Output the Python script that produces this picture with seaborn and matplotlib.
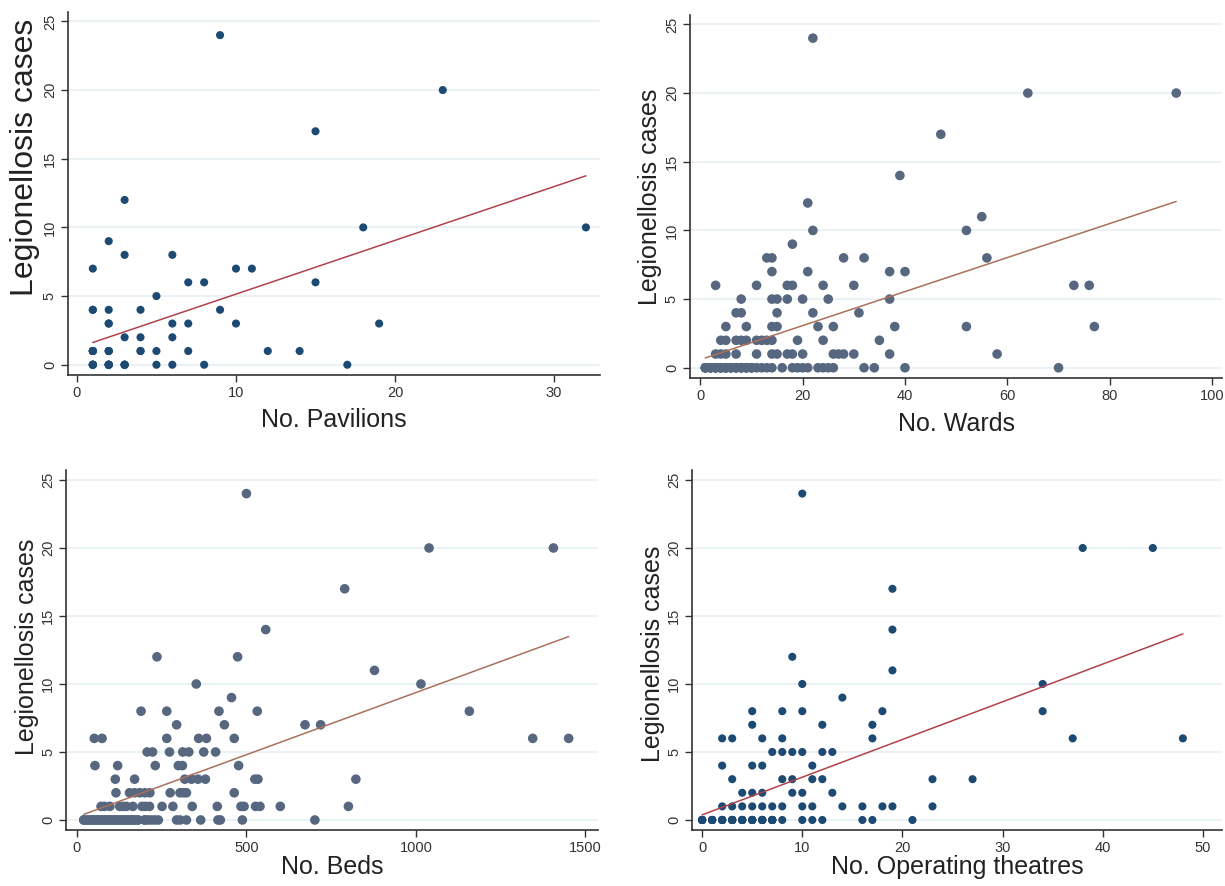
import matplotlib
matplotlib.use("Agg")
import matplotlib.pyplot as plt
import pandas as pd
import seaborn as sns

# data (y = legionellosis cases)
# the "_hid" lists are overlapping points hidden under visible ones (estimated from the fit line)
pav_x = [1, 1, 1, 1, 2, 2, 2, 2, 2, 3, 3, 3, 3, 4, 4, 4, 5, 5, 5, 6, 6, 6, 6,
         7, 7, 7, 8, 8, 9, 9, 10, 10, 11, 12, 14, 15, 15, 17, 18, 19, 23, 32]
pav_y = [7, 4, 1, 0, 9, 4, 3, 1, 0, 12, 8, 2, 0, 4, 2, 1, 5, 1, 0, 8, 3, 2, 0,
         6, 3, 1, 6, 0, 24, 4, 7, 3, 7, 1, 1, 17, 6, 0, 10, 3, 20, 10]
pav_hid_x = [1, 1, 1, 1, 1, 2, 2, 2, 2, 2, 2, 3, 3, 3, 1, 1, 1, 2, 2, 4]
pav_hid_y = [0, 0, 0, 0, 4, 3, 0, 0, 0, 0, 0, 0, 0, 0, 1, 1, 1, 1, 1, 1]

ward_x = [1, 2, 3, 4, 5, 6, 7, 8, 9, 10, 11, 12, 13, 14, 16, 18, 19, 20, 21, 23, 24, 25, 26, 32, 34, 40, 70,
          3, 4, 5, 7, 11, 14, 15, 17, 18, 20, 26, 27, 28, 30, 37, 58,
          4, 5, 7, 8, 9, 11, 12, 13, 14, 19, 24, 35,
          5, 9, 14, 15, 23, 26, 38, 52, 77,
          7, 8, 15, 22, 31,
          8, 14, 15, 17, 20, 25, 37,
          3, 11, 17, 18, 24, 30, 73, 76,
          14, 21, 37, 40,
          13, 14, 28, 32, 56,
          18, 22, 52, 55, 21, 39, 47, 64, 93, 22]
ward_y = [0] * 27 + [1] * 16 + [2] * 12 + [3] * 9 + [4] * 5 + [5] * 7 + [6] * 8 + [7] * 4 + [8] * 5 + \
         [9, 10, 10, 11, 12, 14, 17, 20, 20, 24]
ward_hid_x = [1, 2, 3, 4, 5, 6, 7, 8, 9, 10, 1, 2, 3, 4, 5, 6, 7, 8, 9, 10, 1, 2, 3, 4, 5]
ward_hid_y = [0] * 25

bed_x = [20, 30, 40, 50, 60, 70, 80, 90, 100, 110, 120, 130, 140, 150, 160, 170, 180, 200, 210, 220, 230, 240,
         294, 304, 323, 365, 416, 423, 488, 702,
         71, 81, 97, 126, 136, 146, 165, 192, 202, 214, 251, 283, 340, 414, 484, 493, 527, 540, 600, 801,
         115, 155, 170, 185, 200, 215, 275, 304, 314, 323, 464,
         113, 170, 318, 338, 357, 379, 525, 534, 823,
         53, 120, 231, 299, 311, 477,
         207, 223, 273, 312, 330, 374, 409,
         51, 74, 265, 359, 382, 464, 1345, 1451,
         294, 435, 673, 719,
         189, 265, 419, 532, 1158,
         456, 352, 1015, 878, 236, 474, 557, 790, 1039, 1406, 500]
bed_y = [0] * 30 + [1] * 20 + [2] * 11 + [3] * 9 + [4] * 6 + [5] * 7 + [6] * 8 + [7] * 4 + [8] * 5 + \
        [9, 10, 10, 11, 12, 12, 14, 17, 20, 20, 24]
bed_hid_x = [20, 30, 40, 50, 60, 70, 80, 90, 100, 110, 120, 130, 140, 150, 160, 170, 180, 200]
bed_hid_y = [0] * 18

ot_x = [0, 1, 2, 3, 4, 5, 6, 7, 8, 10, 11, 12, 16, 17, 21,
        2, 3, 4, 5, 6, 7, 8, 10, 11, 14, 16, 18, 19, 23,
        4, 5, 6, 9, 10, 13,
        3, 8, 9, 11, 12, 23, 27,
        2, 5, 6, 11,
        7, 8, 9, 10, 12, 13,
        2, 3, 6, 8, 17, 37, 48,
        5, 12, 17,
        5, 8, 10, 18, 34,
        14, 10, 34, 19, 9, 19, 19, 38, 45, 10]
ot_y = [0] * 15 + [1] * 14 + [2] * 6 + [3] * 7 + [4] * 4 + [5] * 6 + [6] * 7 + [7] * 3 + [8] * 5 + \
       [9, 10, 10, 11, 12, 14, 17, 20, 20, 24]
ot_hid_x = [0, 1, 2, 3, 4, 5, 6, 7] * 5
ot_hid_y = [0] * 40

navy = "#1c4a73"
slate = "#56677f"
red_line = "#b0424c"
brown_line = "#a9705c"

sns.set_theme(style="white")
plt.rcParams['font.family'] = ['Liberation Sans', 'DejaVu Sans']

fig = plt.figure(figsize=(12.25, 8.86), dpi=100)

panels = [
    (pav_x + pav_hid_x, pav_y + pav_hid_y, "No. Pavilions", [0.0555, 0.5767, 0.4345, 0.41],
     (-0.56, 32.9), [0, 10, 20, 30], navy, red_line, 34, 23, 0.60, 6),
    (ward_x + ward_hid_x, ward_y + ward_hid_y, "No. Wards", [0.5633, 0.5733, 0.4345, 0.41],
     (-2, 102), [0, 20, 40, 60, 80, 100], slate, brown_line, 48, 18, 0.50, 6),
    (bed_x + bed_hid_x, bed_y + bed_hid_y, "No. Beds", [0.054, 0.063, 0.434, 0.406],
     (-32, 1537), [0, 500, 1000, 1500], slate, brown_line, 48, 18, 0.51, 0),
    (ot_x + ot_hid_x, ot_y + ot_hid_y, "No. Operating theatres", [0.565, 0.063, 0.4325, 0.406],
     (-1, 51.9), [0, 10, 20, 30, 40, 50], navy, red_line, 34, 18, 0.49, 0),
]

for xs, ys, xlab, pos, xlim, xticks, mcol, lcol, msize, yfs, ylab_y, xpad in panels:
    ax = fig.add_axes(pos)
    df = pd.DataFrame({"x": xs, "y": ys})
    for g in [0, 5, 10, 15, 20, 25]:
        ax.axhline(g, color="#e8f0f4", lw=1.2, zorder=0)
    sns.regplot(data=df, x="x", y="y", ax=ax, ci=None,
                scatter_kws={"s": msize, "color": mcol, "edgecolor": "none", "alpha": 1, "zorder": 3},
                line_kws={"color": lcol, "lw": 1.1, "zorder": 4})
    ax.set_xlim(*xlim)
    ax.set_ylim(-0.75, 25.7)
    ax.set_xticks(xticks)
    ax.set_yticks([0, 5, 10, 15, 20, 25])
    ax.set_yticklabels(["0", "5", "10", "15", "20", "25"], rotation=90, va="center")
    ax.tick_params(axis="both", direction="out", length=5, width=1, color="#333333",
                   labelsize=10.5, labelcolor="#333333", pad=3, left=True, bottom=True)
    ax.set_xlabel(xlab, fontsize=18, color="#222222", labelpad=xpad)
    ax.set_ylabel("Legionellosis cases", fontsize=yfs, color="#222222")
    ax.yaxis.set_label_coords(-0.052, ylab_y)
    for side in ["top", "right"]:
        ax.spines[side].set_visible(False)
    for side in ["left", "bottom"]:
        ax.spines[side].set_color("#333333")
        ax.spines[side].set_linewidth(1.2)
    ax.grid(False)

fig.savefig("out.png", dpi=100)
